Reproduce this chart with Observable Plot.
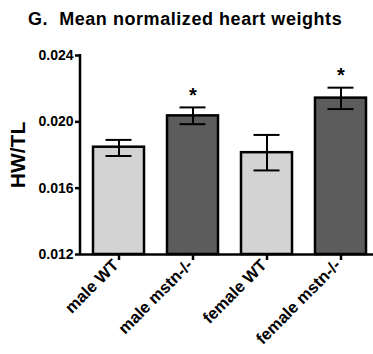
<!DOCTYPE html>
<html><head><meta charset="utf-8">
<script src="https://cdn.jsdelivr.net/npm/d3@7"></script>
<script src="https://cdn.jsdelivr.net/npm/@observablehq/plot@0.6"></script>
<style>
body{margin:0;background:#fff;font-family:"Liberation Sans",Arial,sans-serif;}
#title{height:40px;box-sizing:border-box;padding-left:28px;padding-top:9px;font-weight:bold;font-size:18px;letter-spacing:0.55px;line-height:20px;white-space:pre;color:#000;}
</style></head><body>
<div id="title">G.  Mean normalized heart weights</div>
<div id="chart"></div>
<script>
const groups = ["male WT", "male mstn-/-", "female WT", "female mstn-/-"];
const genotypes = ["WT", "mstn-/-", "WT", "mstn-/-"];
const means = [0.01847, 0.02036, 0.01814, 0.02143];
const errLow = [0.01794, 0.01986, 0.01707, 0.02077];
const errHigh = [0.01891, 0.02087, 0.01921, 0.02206];
const stars = ["", "*", "", "*"];
const yTicks = [0.012, 0.016, 0.020, 0.024];
const yDomain = [0.012, 0.024];
const yLabel = "HW/TL";

const idx = d3.range(groups.length);

const leftAxisLine = (index, scales, values, dim) => {
  const g = d3.create("svg:line")
    .attr("x1", dim.marginLeft).attr("x2", dim.marginLeft)
    .attr("y1", scales.y(yDomain[1]) - 1).attr("y2", scales.y(yDomain[0]) + 1)
    .attr("stroke", "#000").attr("stroke-width", 2.5);
  return g.node();
};

const chart = Plot.plot({
  width: 373,
  height: 314,
  marginTop: 15,
  marginBottom: 100,
  marginLeft: 80,
  marginRight: 0,
  style: {fontFamily: "Liberation Sans, Arial, sans-serif", color: "#000", background: "#fff"},
  x: {type: "band", domain: groups, paddingInner: 0.315, paddingOuter: 0.124, align: 0.66, axis: null},
  y: {domain: yDomain, axis: null},
  color: {domain: ["WT", "mstn-/-"], range: ["#d3d3d3", "#5c5c5c"]},
  marks: [
    Plot.barY(idx, {x: groups, y1: yDomain[0], y2: means, fill: genotypes, stroke: "#000", strokeWidth: 2.5}),
    Plot.ruleX(idx, {x: groups, y1: errLow, y2: errHigh, stroke: "#000", strokeWidth: 2}),
    Plot.tickY(idx, {x: groups, y: errLow, stroke: "#000", strokeWidth: 2, insetLeft: 12.5, insetRight: 12.5}),
    Plot.tickY(idx, {x: groups, y: errHigh, stroke: "#000", strokeWidth: 2, insetLeft: 12.5, insetRight: 12.5}),
    Plot.text(idx, {x: groups, y: errHigh, text: stars, dy: -12, fontSize: 20, fontWeight: "bold", fill: "#000"}),
    Plot.ruleY([yDomain[0]], {stroke: "#000", strokeWidth: 2.5}),
    leftAxisLine,
    Plot.axisY({ticks: yTicks, tickFormat: d3.format(".3f"), tickSize: 5, tickPadding: 2, strokeWidth: 2.5, fontSize: 14, fontWeight: "bold", label: null, fill: "#000"}),
    Plot.axisX({tickSize: 6, tickFormat: () => "", strokeWidth: 2.5, label: null}),
    Plot.axisX({tickSize: 0, tickPadding: 8, tickRotate: -45, fontSize: 16.5, fontWeight: "bold", label: null, fill: "#000", dx: -3}),
    Plot.text([yLabel], {frameAnchor: "left", textAnchor: "middle", lineAnchor: "middle", rotate: -90, dx: -62, fontSize: 21, fontWeight: "bold", fill: "#000"})
  ]
});
document.getElementById("chart").appendChild(chart);
</script>
</body></html>
